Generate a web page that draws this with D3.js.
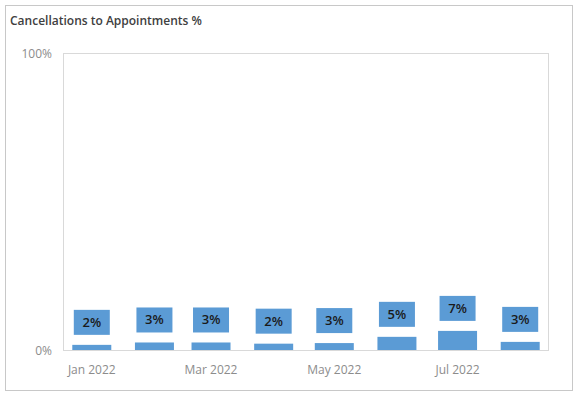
<!DOCTYPE html>
<html>
<head>
<meta charset="utf-8">
<script src="https://cdn.jsdelivr.net/npm/d3@7"></script>
<style>
  body { margin: 0; background: #fff; }
  svg { display: block; font-family: "Open Sans", "Noto Sans", sans-serif; }
</style>
</head>
<body>
<svg id="chart"></svg>
<script>
// Donnees
const months = ["2022-01-01", "2022-02-01", "2022-03-01", "2022-04-01", "2022-05-01", "2022-06-01", "2022-07-01", "2022-08-01"]
const rates = [1.9, 2.7, 2.7, 2.3, 2.5, 4.6, 6.6, 2.9]
const labels = ["2%", "3%", "3%", "2%", "3%", "5%", "7%", "3%"]
const yTicks = [0, 100]
const xTicks = ["2022-01-01", "2022-03-01", "2022-05-01", "2022-07-01"]

const width = 577
const height = 397
const parse = d3.timeParse("%Y-%m-%d")

const svg = d3.select("#chart").attr("width", width).attr("height", height)

// cadre exterieur
svg.append("rect")
  .attr("x", 5.5).attr("y", 5.5)
  .attr("width", 567).attr("height", 385)
  .attr("fill", "#fff").attr("stroke", "#c8c8c8")

svg.append("text")
  .attr("x", 10).attr("y", 25)
  .attr("fill", "#404040")
  .style("font-size", "12px")
  .style("font-weight", 600)
  .text("Cancellations to Appointments %")

const plot = { left: 63.5, right: 548.5, top: 53.5, bottom: 350.5 }

const x = d3.scaleTime()
  .domain([parse("2021-12-18"), parse("2022-08-15")])
  .range([plot.left, plot.right])

const y = d3.scaleLinear()
  .domain([0, 100])
  .range([plot.bottom, plot.top])

svg.append("rect")
  .attr("x", plot.left).attr("y", plot.top)
  .attr("width", plot.right - plot.left).attr("height", plot.bottom - plot.top)
  .attr("fill", "none").attr("stroke", "#d9d9d9")

// axe y
svg.selectAll(".ytick")
  .data(yTicks)
  .join("text")
  .attr("class", "ytick")
  .attr("x", 52).attr("y", d => y(d) + 4)
  .attr("text-anchor", "end")
  .attr("fill", "#8c8c8c")
  .style("font-size", "12px")
  .text(d => d + "%")

// axe x
svg.selectAll(".xtick")
  .data(xTicks)
  .join("text")
  .attr("class", "xtick")
  .attr("x", d => x(parse(d)))
  .attr("y", 374)
  .attr("text-anchor", "middle")
  .attr("fill", "#8c8c8c")
  .style("font-size", "12px")
  .text(d => d3.timeFormat("%b %Y")(parse(d)))

const barW = 39
const boxW = 36
const boxH = 25
const data = months.map((m, i) => ({ date: parse(m), v: rates[i], lab: labels[i] }))

svg.selectAll(".bar")
  .data(data)
  .join("rect")
  .attr("class", "bar")
  .attr("x", d => x(d.date) - barW / 2)
  .attr("y", d => y(d.v))
  .attr("width", barW)
  .attr("height", d => y(0) - y(d.v) - 0.5)
  .attr("fill", "#5b9bd5")

const lab = svg.selectAll(".lab")
  .data(data)
  .join("g")
  .attr("class", "lab")
  .attr("transform", d => `translate(${x(d.date)},${y(d.v) - 10 - boxH})`)

lab.append("rect")
  .attr("x", -boxW / 2).attr("y", 0)
  .attr("width", boxW).attr("height", boxH)
  .attr("fill", "#5b9bd5")

lab.append("text")
  .attr("x", 0).attr("y", boxH / 2 + 4.5)
  .attr("text-anchor", "middle")
  .attr("fill", "#1a1a1a")
  .style("font-size", "13px")
  .style("font-weight", 600)
  .text(d => d.lab)
</script>
</body>
</html>
